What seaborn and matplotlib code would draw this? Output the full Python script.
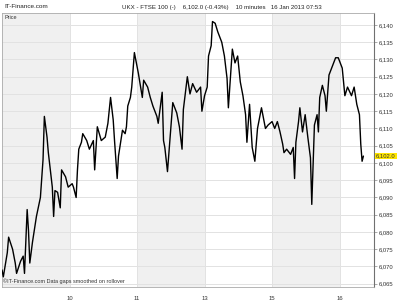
import matplotlib
matplotlib.use("Agg")
import matplotlib.pyplot as plt
import seaborn as sns
import pandas as pd

# 10-minute bar index and price
bars = [0, 1, 4, 5, 8, 10, 11, 14, 16, 17, 19, 20, 21, 23, 26, 29, 31, 32, 34, 35,
        38, 39, 40, 42, 44, 45, 48, 50, 53, 54, 56, 57, 58, 60, 61, 64, 66, 69, 70, 72,
        75, 78, 80, 82, 84, 85, 87, 88, 91, 93, 94, 95, 97, 98, 100, 102, 103, 106, 107, 110,
        112, 114, 117, 118, 121, 122, 123, 125, 127, 129, 132, 134, 136, 137, 140, 142, 144, 147, 150, 151,
        153, 155, 156, 158, 159, 161, 163, 166, 168, 170, 171, 174, 176, 178, 180, 182, 184, 185, 187, 189,
        191, 193, 196, 199, 201, 204, 206, 208, 210, 212, 213, 215, 218, 220, 221, 222, 224, 225, 227, 229,
        231, 233, 234, 236, 238, 239, 240, 242, 244, 245, 247, 249, 252, 254, 257, 259, 261, 264, 266, 268,
        270, 271, 272, 273]
prices = [6069, 6067, 6074, 6078.5, 6075, 6071, 6068, 6071.5, 6073, 6068, 6086.5, 6080.5, 6071, 6077, 6084.5, 6090, 6101, 6113.5, 6107.5, 6103,
          6093, 6084.5, 6092, 6091.5, 6087, 6098, 6096, 6093, 6094, 6093, 6090, 6098, 6104, 6106, 6108.5, 6106.5, 6104, 6106.5, 6098, 6110.5,
          6106.5, 6107.5, 6111.5, 6119, 6112.5, 6106.5, 6095.5, 6102, 6109.5, 6108.5, 6110.5, 6116.5, 6119, 6122, 6132, 6128, 6126, 6119, 6124, 6122,
          6119, 6116.5, 6113.5, 6111.5, 6120.5, 6106.5, 6104.5, 6097.5, 6107.5, 6117.5, 6114.5, 6110.5, 6104, 6115.5, 6125, 6120, 6123, 6120.5, 6122, 6115,
          6119.5, 6122, 6131, 6134, 6141, 6140.5, 6138, 6135, 6131, 6124.5, 6116, 6133, 6129, 6131, 6123.5, 6119.5, 6114, 6106, 6117, 6104.5,
          6100.5, 6110, 6116, 6110, 6111, 6112, 6110, 6112, 6109, 6105.5, 6103, 6104, 6102.5, 6104.5, 6095.5, 6106, 6112, 6116, 6109, 6114,
          6107.5, 6101.5, 6088, 6111, 6114, 6109, 6119, 6122.5, 6119.5, 6115, 6125.5, 6127.5, 6130.5, 6130.5, 6127.5, 6119.5, 6122, 6119.5, 6122, 6117,
          6114, 6105.5, 6100.5, 6102]

day_ticks = [51, 102, 153, 204, 255]
day_labels = ["10", "11", "13", "15", "16"]
price_ticks = [6065, 6070, 6075, 6080, 6085, 6090, 6095, 6100, 6105, 6110, 6115, 6120, 6125, 6130, 6135, 6140]
last_price = 6102.0

df = pd.DataFrame({"bar": bars, "price": prices})

sns.set_theme(style="white")
plt.rcParams["font.family"] = ["Liberation Sans", "DejaVu Sans"]

fig = plt.figure(figsize=(4, 3), dpi=100)
ax = fig.add_axes([0.005, 0.045, 0.93, 0.912])

xmin, xmax = 0, 281
ymin, ymax = 6064.2, 6143.5

# alternating day shading
bounds = [xmin] + day_ticks + [xmax]
for i in range(len(bounds) - 1):
    if i % 2 == 0:
        ax.axvspan(bounds[i], bounds[i + 1], color="#f0f0f0", zorder=0, lw=0)

for p in price_ticks:
    ax.axhline(p, color="#e2e2e2", lw=0.7, zorder=1)
for d in day_ticks:
    ax.axvline(d, color="#e2e2e2", lw=0.7, zorder=1)

sns.lineplot(data=df, x="bar", y="price", ax=ax, color="black", lw=1.0,
             zorder=3, estimator=None, sort=False)

ax.set_xlim(xmin, xmax)
ax.set_ylim(ymin, ymax)
ax.set_xlabel("")
ax.set_ylabel("")

ax.yaxis.tick_right()
ax.set_yticks(price_ticks)
ax.set_yticklabels([f"{p:,}" for p in price_ticks], fontsize=4.2, color="#333333")
ax.tick_params(axis="y", which="both", right=True, length=2.5, width=0.5,
               color="#888888", pad=1)
ax.set_xticks(day_ticks)
ax.set_xticklabels(day_labels, fontsize=4.2, color="#333333")
ax.tick_params(axis="x", bottom=False, pad=1.0)

for side in ["left", "top", "bottom"]:
    ax.spines[side].set_color("#aaaaaa")
    ax.spines[side].set_linewidth(0.6)
ax.spines["right"].set_color("#707070")
ax.spines["right"].set_linewidth(0.8)

# last price marker
ax.text(1.006, (last_price - ymin) / (ymax - ymin), f"{last_price:,.1f}",
        transform=ax.transAxes, fontsize=4.2, color="#333333", va="center",
        ha="left", bbox=dict(boxstyle="square,pad=0.15", fc="#ffe600", ec="none"),
        zorder=5, clip_on=False)

ax.text(0.006, 0.992, "Price", transform=ax.transAxes, fontsize=4.0,
        color="#333333", va="top", ha="left")
ax.text(0.004, 0.008, "\u00a9IT-Finance.com Data gaps smoothed on rollover",
        transform=ax.transAxes, fontsize=4.0, color="#333333", va="bottom", ha="left")

fig.text(0.01, 0.985, "IT-Finance.com", fontsize=4.6, color="#222222", va="top", ha="left")
fig.text(0.305, 0.985, "UKX - FTSE 100 (-)    6,102.0 (-0.43%)    10 minutes   16 Jan 2013 07:53",
         fontsize=4.4, color="#222222", va="top", ha="left")

fig.savefig("out.png", dpi=100)
